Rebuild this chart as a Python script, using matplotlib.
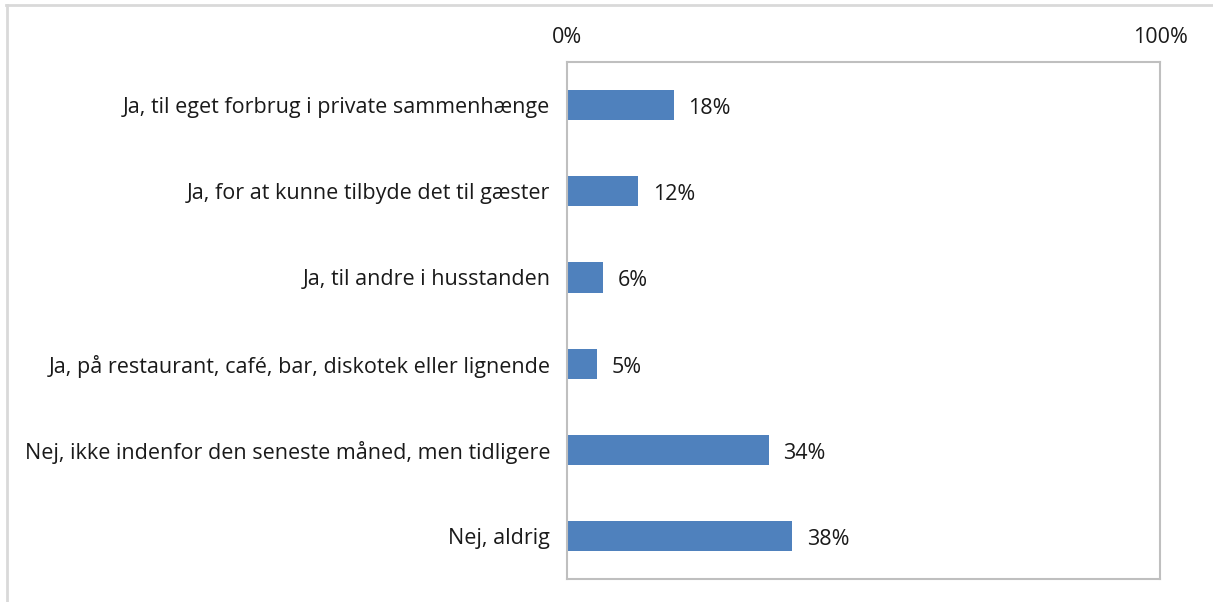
import matplotlib.pyplot as plt
import matplotlib.ticker as ticker
from matplotlib.lines import Line2D

categories = ['Ja, til eget forbrug i private sammenhænge',
              'Ja, for at kunne tilbyde det til gæster',
              'Ja, til andre i husstanden',
              'Ja, på restaurant, café, bar, diskotek eller lignende',
              'Nej, ikke indenfor den seneste måned, men tidligere',
              'Nej, aldrig']
values = [18, 12, 6, 5, 34, 38]
xticks = [0, 100]

FONT = 'Open Sans'
FS = 15.5

fig = plt.figure(figsize=(12.13, 6.02), dpi=100)
ax = fig.add_axes([0.4674, 0.0382, 0.4889, 0.8588])

pos = list(range(len(categories)))
ax.barh(pos, values, height=0.35, color='#4F81BD')
for p, v in zip(pos, values):
    ax.text(v + 2.5, p + 0.04, f'{v}%', va='center', ha='left', fontsize=FS,
            family=FONT, color='#1a1a1a')

ax.set_xlim(0, 100)
ax.set_ylim(len(categories) - 0.5, -0.5)
ax.set_yticks(pos)
ax.set_yticklabels(categories, fontsize=FS, family=FONT, color='#1a1a1a')
ax.set_xticks(xticks)
ax.xaxis.set_major_formatter(ticker.FuncFormatter(lambda v, n: f'{v:.0f}%'))
ax.xaxis.tick_top()
ax.tick_params(axis='x', length=0, pad=10, labelsize=FS, labelcolor='#1a1a1a')
ax.tick_params(axis='y', length=0, pad=12)
for lab in ax.get_xticklabels():
    lab.set_family(FONT)
for s in ax.spines.values():
    s.set_color('#BFBFBF')
    s.set_linewidth(1.5)

# outer frame lines of the original chart box
fig.add_artist(Line2D([6 / 1213, 1], [1 - 5 / 602] * 2, color='#D9D9D9', lw=2,
                      transform=fig.transFigure))
fig.add_artist(Line2D([6.5 / 1213] * 2, [0, 1 - 5 / 602], color='#D9D9D9', lw=2,
                      transform=fig.transFigure))

fig.savefig('out.png', dpi=100)
